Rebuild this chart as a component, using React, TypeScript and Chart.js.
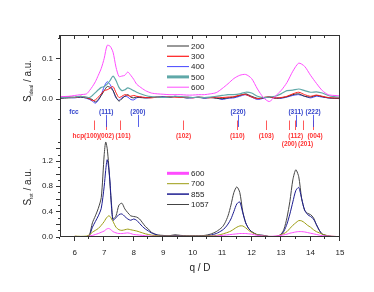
import React, { useEffect, useRef } from 'react';
import { Chart, registerables } from 'chart.js';
Chart.register(...registerables);

const FONT = "'Liberation Sans', Arial, Helvetica, sans-serif";

// ---------- top panel (S_ideal) ----------
const topQ = [5.5, 5.8, 6.0, 6.2, 6.4, 6.5, 6.6, 6.7, 6.8, 6.9, 7.0, 7.1, 7.2, 7.3, 7.4, 7.5, 7.6, 7.7, 7.8, 7.9, 8.0, 8.1, 8.2, 8.4, 8.6, 8.8, 9.0, 9.2, 9.4, 9.6, 9.8, 10.0, 10.2, 10.4, 10.6, 10.8, 11.0, 11.2, 11.4, 11.6, 11.8, 12.0, 12.2, 12.4, 12.6, 12.8, 13.0, 13.2, 13.4, 13.6, 13.8, 14.0, 14.2, 14.4, 14.6, 14.8, 15.0];
const top200 = [0.001, 0.002, 0.003, 0.004, 0.002, 0.0, -0.002, -0.008, -0.002, 0.008, 0.02, 0.03, 0.028, 0.02, 0.004, -0.006, 0.0, 0.006, 0.01, 0.004, 0.002, 0.004, 0.003, 0.002, 0.003, 0.004, 0.004, 0.003, 0.005, 0.004, 0.002, 0.003, 0.003, 0.002, 0.003, 0.001, 0.0, 0.002, 0.004, 0.008, 0.012, 0.006, 0.001, 0.002, 0.004, 0.001, 0.002, 0.005, 0.01, 0.012, 0.006, 0.004, 0.008, 0.005, 0.002, 0.001, 0.001];
const top300 = [0.004, 0.005, 0.003, 0.006, 0.003, 0.0, -0.005, -0.003, 0.004, 0.012, 0.02, 0.022, 0.026, 0.03, 0.015, 0.003, 0.006, 0.01, 0.008, 0.006, 0.008, 0.006, 0.005, 0.003, 0.002, 0.004, 0.003, 0.005, 0.004, 0.003, 0.004, 0.002, 0.004, 0.003, 0.002, 0.004, 0.003, 0.004, 0.005, 0.009, 0.01, 0.004, 0.0, 0.003, 0.005, 0.002, 0.003, 0.006, 0.012, 0.016, 0.01, 0.006, 0.009, 0.006, 0.003, 0.002, 0.002];
const top400 = [0.002, 0.003, 0.002, 0.004, 0.001, -0.002, -0.006, -0.011, -0.004, 0.01, 0.03, 0.042, 0.035, 0.02, 0.002, -0.004, 0.002, 0.006, 0.004, -0.002, -0.003, 0.002, 0.004, 0.002, 0.003, 0.004, 0.005, 0.004, 0.006, 0.004, 0.002, 0.002, 0.004, 0.001, 0.003, 0.002, -0.002, 0.001, 0.002, 0.006, 0.01, 0.004, -0.002, 0.001, 0.004, 0.002, 0.001, 0.004, 0.008, 0.01, 0.006, 0.002, 0.006, 0.004, 0.002, 0.001, 0.0];
const top500 = [0.003, 0.004, 0.004, 0.006, 0.004, 0.003, 0.008, 0.015, 0.022, 0.028, 0.03, 0.036, 0.045, 0.056, 0.045, 0.028, 0.02, 0.022, 0.027, 0.024, 0.02, 0.016, 0.013, 0.008, 0.005, 0.004, 0.003, 0.004, 0.006, 0.005, 0.004, 0.003, 0.004, 0.003, 0.004, 0.006, 0.008, 0.01, 0.01, 0.012, 0.016, 0.014, 0.006, 0.003, 0.004, 0.006, 0.012, 0.02, 0.021, 0.024, 0.02, 0.016, 0.017, 0.014, 0.008, 0.005, 0.004];
const top600 = [0.005, 0.006, 0.008, 0.01, 0.012, 0.02, 0.03, 0.042, 0.058, 0.075, 0.1, 0.132, 0.13, 0.115, 0.078, 0.055, 0.056, 0.058, 0.066, 0.058, 0.048, 0.036, 0.03, 0.02, 0.014, 0.012, 0.011, 0.01, 0.01, 0.01, 0.009, 0.009, 0.01, 0.01, 0.012, 0.015, 0.025, 0.037, 0.05, 0.058, 0.06, 0.05, 0.024, 0.003, -0.007, 0.006, 0.02, 0.04, 0.068, 0.088, 0.08, 0.058, 0.038, 0.02, 0.01, 0.008, 0.007];

// ---------- bottom panel (S_tot) ----------
const botQ = [5.5, 6.0, 6.2, 6.4, 6.5, 6.6, 6.7, 6.8, 6.9, 7.0, 7.05, 7.1, 7.15, 7.2, 7.25, 7.3, 7.4, 7.5, 7.6, 7.7, 7.8, 7.9, 8.0, 8.1, 8.2, 8.3, 8.4, 8.5, 8.6, 8.8, 9.0, 9.2, 9.4, 9.6, 9.8, 10.0, 10.2, 10.4, 10.6, 10.8, 11.0, 11.1, 11.2, 11.3, 11.4, 11.5, 11.6, 11.7, 11.8, 11.9, 12.0, 12.2, 12.4, 12.6, 12.8, 13.0, 13.1, 13.2, 13.3, 13.4, 13.5, 13.6, 13.7, 13.8, 13.9, 14.0, 14.1, 14.2, 14.3, 14.4, 14.6, 14.8, 15.0];
const bot600 = [null, 0.005, 0.0, 0.0, 0.01, 0.02, 0.035, 0.05, 0.07, 0.09, 0.11, 0.125, 0.13, 0.12, 0.1, 0.08, 0.06, 0.05, 0.05, 0.055, 0.06, 0.05, 0.035, 0.03, 0.025, 0.02, 0.015, 0.01, 0.008, 0.005, 0.005, 0.005, 0.005, 0.005, 0.005, 0.005, 0.005, 0.005, 0.006, 0.01, 0.02, 0.025, 0.03, 0.035, 0.04, 0.045, 0.05, 0.05, 0.05, 0.045, 0.04, 0.02, 0.01, 0.005, 0.01, 0.02, 0.03, 0.04, 0.055, 0.065, 0.075, 0.08, 0.08, 0.075, 0.065, 0.055, 0.045, 0.035, 0.025, 0.015, 0.01, 0.005, 0.0];
const bot700 = [null, 0.01, 0.005, 0.01, 0.03, 0.07, 0.1, 0.13, 0.18, 0.24, 0.28, 0.31, 0.33, 0.32, 0.28, 0.24, 0.15, 0.11, 0.1, 0.11, 0.12, 0.11, 0.1, 0.09, 0.075, 0.06, 0.045, 0.035, 0.025, 0.015, 0.01, 0.01, 0.01, 0.01, 0.01, 0.01, 0.01, 0.012, 0.015, 0.02, 0.04, 0.055, 0.07, 0.09, 0.12, 0.15, 0.17, 0.17, 0.14, 0.1, 0.07, 0.03, 0.015, 0.005, 0.005, 0.03, 0.05, 0.08, 0.13, 0.18, 0.22, 0.255, 0.25, 0.22, 0.18, 0.15, 0.11, 0.08, 0.06, 0.04, 0.015, 0.005, 0.0];
const bot855 = [null, -0.01, -0.015, -0.01, 0.02, 0.15, 0.24, 0.33, 0.45, 0.8, 1.05, 1.22, 1.1, 0.85, 0.45, 0.26, 0.3, 0.35, 0.36, 0.32, 0.28, 0.26, 0.28, 0.26, 0.21, 0.16, 0.12, 0.09, 0.06, 0.025, 0.015, 0.01, 0.02, 0.015, 0.01, 0.01, 0.01, 0.015, 0.025, 0.05, 0.1, 0.14, 0.2, 0.28, 0.4, 0.52, 0.55, 0.38, 0.22, 0.13, 0.08, 0.03, 0.02, 0.0, -0.01, 0.03, 0.09, 0.2, 0.36, 0.55, 0.73, 0.78, 0.6, 0.42, 0.35, 0.32, 0.28, 0.19, 0.1, 0.04, 0.01, 0.0, 0.0];
const bot1057 = [0.0, 0.0, -0.01, -0.005, 0.03, 0.22, 0.33, 0.45, 0.62, 1.3, 1.5, 1.4, 1.15, 0.8, 0.5, 0.28, 0.33, 0.5, 0.53, 0.44, 0.38, 0.33, 0.32, 0.31, 0.28, 0.22, 0.16, 0.12, 0.07, 0.03, 0.02, 0.015, 0.03, 0.02, 0.015, 0.015, 0.015, 0.02, 0.04, 0.08, 0.15, 0.22, 0.33, 0.5, 0.7, 0.79, 0.7, 0.4, 0.22, 0.13, 0.08, 0.03, 0.02, 0.0, -0.01, 0.04, 0.12, 0.3, 0.56, 0.9, 1.06, 0.95, 0.6, 0.42, 0.37, 0.35, 0.3, 0.19, 0.1, 0.04, 0.01, 0.0, 0.0];

// ---------- reflections ----------
const fccLabels = ['(111)', '(200)', '(220)', '(311)', '(222)'];
const fccQ = [7.07, 8.14, 11.54, 13.5, 14.09];
const hcpLabels = ['(100)', '(002)', '(101)', '(102)', '(110)', '(103)', '(200)', '(112)', '(201)', '(004)'];
const hcpQ = [6.66, 7.06, 7.54, 9.69, 11.5, 12.48, 13.28, 13.48, 13.75, 14.1];
const hcpLabelRow = [0, 0, 0, 0, 0, 0, 1, 0, 1, 0];
const hcpLabelShift = [-2.5, 0.5, 3, 0, 0.5, 0.5, 0, 0.5, 2.5, 1.5];

// ---------- axes ----------
const xMajor = [6, 7, 8, 9, 10, 11, 12, 13, 14, 15];
const xMinor = [5.5, 6.5, 7.5, 8.5, 9.5, 10.5, 11.5, 12.5, 13.5, 14.5];
const yTopMajor = [0, 0.1];
const yTopMinor = [-0.05, 0.05, 0.15];
const yBotMajor = [0, 0.2, 0.4, 0.6, 0.8, 1.0, 1.2, 1.4];
const yBotMinor = [0.1, 0.3, 0.5, 0.7, 0.9, 1.1, 1.3, 1.5];

const mk = (qs: number[], vs: (number | null)[]) => qs.map((q, i) => ({ x: q, y: vs[i] }));

const datasets: any[] = [
  { label: '600', data: mk(topQ, top600), yAxisID: 'yTop', borderColor: '#ff4cff', borderWidth: 1, group: 'top', legW: 1 },
  { label: '500', data: mk(topQ, top500), yAxisID: 'yTop', borderColor: '#5fa8a8', borderWidth: 1.2, group: 'top', legW: 3 },
  { label: '300', data: mk(topQ, top300), yAxisID: 'yTop', borderColor: '#ff1a1a', borderWidth: 1, group: 'top', legW: 1.2 },
  { label: '200', data: mk(topQ, top200), yAxisID: 'yTop', borderColor: '#333333', borderWidth: 1, group: 'top', legW: 1 },
  { label: '400', data: mk(topQ, top400), yAxisID: 'yTop', borderColor: '#4646ff', borderWidth: 1, group: 'top', legW: 1 },
  { label: '600', data: mk(botQ, bot600), yAxisID: 'yBot', borderColor: '#ff4cff', borderWidth: 1, group: 'bot', legW: 3 },
  { label: '700', data: mk(botQ, bot700), yAxisID: 'yBot', borderColor: '#9c9c10', borderWidth: 1, group: 'bot', legW: 1 },
  { label: '855', data: mk(botQ, bot855), yAxisID: 'yBot', borderColor: '#1c1c90', borderWidth: 1, group: 'bot', legW: 1.5 },
  { label: '1057', data: mk(botQ, bot1057), yAxisID: 'yBot', borderColor: '#444444', borderWidth: 1, group: 'bot', legW: 1 },
];
const topLegendOrder = ['200', '300', '400', '500', '600'];
const botLegendOrder = ['600', '700', '855', '1057'];

const decor = {
  id: 'decor',
  afterDraw(chart: any) {
    const { ctx, chartArea: ca, scales } = chart;
    const x = scales.x, yT = scales.yTop, yB = scales.yBot;
    const L = Math.round(ca.left), R = Math.round(ca.right), T = Math.round(ca.top), B = Math.round(ca.bottom);
    ctx.save();
    ctx.strokeStyle = '#333';
    ctx.lineWidth = 1;
    ctx.strokeRect(L + 0.5, T + 0.5, R - L - 1, B - T - 1);
    const line = (x1: number, y1: number, x2: number, y2: number) => {
      ctx.beginPath(); ctx.moveTo(x1, y1); ctx.lineTo(x2, y2); ctx.stroke();
    };
    xMajor.forEach(v => { const px = Math.round(x.getPixelForValue(v)) - 0.5; line(px, B, px, B + 4); line(px, T, px, T + 4); });
    xMinor.forEach(v => { const px = Math.round(x.getPixelForValue(v)) - 0.5; line(px, B, px, B + 2); line(px, T, px, T + 3); });
    const yt = (sc: any, vals: number[], len: number) => vals.forEach(v => {
      const py = Math.round(sc.getPixelForValue(v)) + 0.5; line(L - len, py, L, py);
    });
    yt(yT, yTopMajor, 4); yt(yT, yTopMinor, 2);
    yt(yB, yBotMajor, 4); yt(yB, yBotMinor, 2);

    const yTitle = (cy: number, sub: string) => {
      ctx.save();
      ctx.translate(27, cy);
      ctx.rotate(-Math.PI / 2);
      ctx.fillStyle = '#222';
      ctx.textBaseline = 'alphabetic';
      ctx.font = `10px ${FONT}`;
      const wS = ctx.measureText('S').width;
      ctx.font = `5px ${FONT}`;
      const wSub = ctx.measureText(sub).width;
      ctx.font = `10px ${FONT}`;
      const wRest = ctx.measureText(' / a.u.').width;
      let sx = -(wS + wSub + wRest) / 2;
      ctx.fillText('S', sx, 4); sx += wS;
      ctx.font = `5px ${FONT}`;
      ctx.fillText(sub, sx, 6); sx += wSub;
      ctx.font = `10px ${FONT}`;
      ctx.fillText(' / a.u.', sx, 4);
      ctx.restore();
    };
    yTitle(81, 'ideal');
    yTitle(187, 'tot');

    ctx.font = `bold 6.5px ${FONT}`;
    ctx.textAlign = 'center';
    ctx.textBaseline = 'middle';
    ctx.lineWidth = 1;
    hcpQ.forEach((q) => {
      const px = Math.round(x.getPixelForValue(q)) + 0.5;
      ctx.strokeStyle = '#ff5a5a';
      line(px, yT.getPixelForValue(-0.054), px, yT.getPixelForValue(-0.0775));
    });
    fccQ.forEach((q, i) => {
      const px = Math.round(x.getPixelForValue(q)) + 0.5;
      ctx.strokeStyle = 'rgba(60,70,230,0.85)';
      line(px, yT.getPixelForValue(-0.04), px, yT.getPixelForValue(-0.07));
      ctx.fillStyle = '#3344cc';
      ctx.fillText(fccLabels[i], x.getPixelForValue(q), yT.getPixelForValue(-0.033));
    });
    ctx.fillStyle = '#3344cc';
    ctx.fillText('fcc', L + 14, yT.getPixelForValue(-0.033));
    ctx.fillStyle = '#ff3333';
    hcpQ.forEach((q, i) => {
      const cx = x.getPixelForValue(q) + hcpLabelShift[i];
      const cy = yB.getPixelForValue(hcpLabelRow[i] ? 1.47 : 1.585);
      ctx.fillText(hcpLabels[i], cx, cy);
      if (i === 0) {
        ctx.textAlign = 'right';
        ctx.fillText('hcp', cx - ctx.measureText(hcpLabels[i]).width / 2, cy);
        ctx.textAlign = 'center';
      }
    });

    const legend = (order: string[], group: string, y0: number, dy: number) => {
      order.forEach((lab, i) => {
        const ds = chart.data.datasets.find((d: any) => d.group === group && d.label === lab);
        const py = y0 + i * dy;
        ctx.strokeStyle = ds.borderColor;
        ctx.lineWidth = ds.legW;
        line(L + 107, py, L + 129, py);
        ctx.fillStyle = '#222';
        ctx.font = `8px ${FONT}`;
        ctx.textAlign = 'left';
        ctx.textBaseline = 'middle';
        ctx.fillText(lab, L + 131, py + 0.5);
      });
    };
    legend(topLegendOrder, 'top', T + 11, 10.3);
    legend(botLegendOrder, 'bot', T + 138.3, 10.4);
    ctx.restore();
  },
};

export default function App() {
  const ref = useRef<HTMLCanvasElement>(null);
  useEffect(() => {
    document.body.style.margin = '0';
    const tickFont = { family: FONT, size: 8 };
    const chart = new Chart(ref.current as HTMLCanvasElement, {
      type: 'line',
      data: { datasets },
      options: {
        animation: false,
        responsive: false,
        maintainAspectRatio: false,
        layout: { padding: { top: 35, right: 34, left: 0, bottom: 0 } },
        plugins: { legend: { display: false }, tooltip: { enabled: false } },
        elements: { point: { radius: 0 }, line: { tension: 0.25 } },
        scales: {
          x: {
            type: 'linear', min: 5.5, max: 15,
            afterBuildTicks: (s: any) => { s.ticks = xMajor.map(v => ({ value: v })); },
            grid: { display: false, drawTicks: false },
            border: { display: false },
            ticks: { font: tickFont, color: '#222', padding: 11, maxRotation: 0, autoSkip: false, callback: (v: any) => String(v) },
            title: { display: true, text: 'q / D', font: { family: FONT, size: 10 }, color: '#222', padding: { top: 0, bottom: 18 } },
            afterFit: (s: any) => { s.height = 55; },
          },
          yBot: {
            type: 'linear', position: 'left', stack: 'v', stackWeight: 107,
            min: -0.005, max: 1.69,
            afterBuildTicks: (s: any) => { s.ticks = yBotMajor.map(v => ({ value: v })); },
            grid: { display: false, drawTicks: false },
            border: { display: false },
            ticks: { font: tickFont, color: '#222', padding: 7, callback: (v: any) => Number(v).toFixed(1) },
            afterFit: (s: any) => { s.width = 60; },
          },
          yTop: {
            type: 'linear', position: 'left', stack: 'v', stackWeight: 95,
            min: -0.0775, max: 0.1577,
            afterBuildTicks: (s: any) => { s.ticks = yTopMajor.map(v => ({ value: v })); },
            grid: { display: false, drawTicks: false },
            border: { display: false },
            ticks: { font: tickFont, color: '#222', padding: 7, callback: (v: any) => Number(v).toFixed(1) },
            afterFit: (s: any) => { s.width = 60; },
          },
        },
      } as any,
      plugins: [decor],
    });
    return () => chart.destroy();
  }, []);
  return <canvas ref={ref} width={374} height={292} style={{ display: 'block' }} />;
}
